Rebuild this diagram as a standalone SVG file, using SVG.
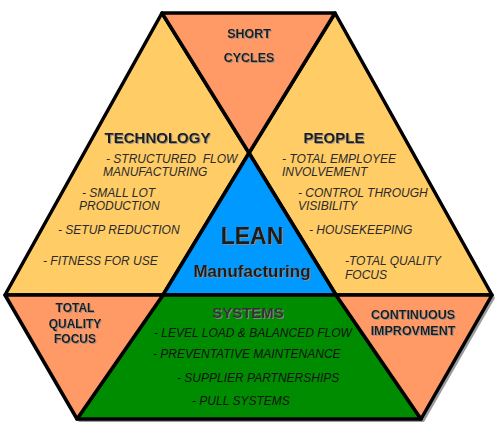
<svg xmlns="http://www.w3.org/2000/svg" width="500" height="434" viewBox="0 0 500 434">
<defs>
<filter id="ts" x="-10%" y="-30%" width="130%" height="170%">
<feDropShadow dx="1" dy="1" stdDeviation="0.4" flood-color="#8a8a8a" flood-opacity="0.9"/>
</filter>
<style>
.reg{stroke:#000;stroke-width:3.5;stroke-linejoin:round}
.yel{fill:#FFCC66}
.sal{fill:#FF9966}
.blu{fill:#0099FF}
.grn{fill:#008C00}
.h{font-family:"Liberation Sans",Arial,sans-serif;font-weight:bold;fill:#1a1a1a;filter:url(#ts)}
.it{font-family:"Liberation Sans",Arial,sans-serif;font-style:italic;font-size:12px;fill:#2a2a2a}
.c{text-anchor:middle}
</style>
</defs>
<rect width="500" height="434" fill="#fff"/>
<polygon id="shadow" points="164,16 338,16 495,298 424,422 79,422 7,298" fill="#9a9a9a"/>
<g id="technology">
<polygon class="reg yel" points="162,13 249,153 163,295 5,295"/>
<text class="h c" x="157.5" y="143" font-size="15">TECHNOLOGY</text>
<text class="it" x="106" y="163" xml:space="preserve">- STRUCTURED  FLOW</text>
<text class="it" x="103" y="176">MANUFACTURING</text>
<text class="it" x="82" y="197">- SMALL LOT</text>
<text class="it" x="79" y="210">PRODUCTION</text>
<text class="it" x="58" y="234">- SETUP REDUCTION</text>
<text class="it" x="43" y="265">- FITNESS FOR USE</text>
</g>
<g id="people">
<polygon class="reg yel" points="335,13 492,295 336,295 249,153"/>
<text class="h c" x="334" y="143" font-size="15">PEOPLE</text>
<text class="it" x="282" y="163">- TOTAL EMPLOYEE</text>
<text class="it" x="282" y="176">INVOLVEMENT</text>
<text class="it" x="298" y="197">- CONTROL THROUGH</text>
<text class="it" x="298" y="210">VISIBILITY</text>
<text class="it" x="309" y="234">- HOUSEKEEPING</text>
<text class="it" x="345" y="265">-TOTAL QUALITY</text>
<text class="it" x="345" y="279">FOCUS</text>
</g>
<g id="short-cycles">
<polygon class="reg sal" points="162,13 335,13 249,153"/>
<text class="h c" x="249" y="38" font-size="12.5">SHORT</text>
<text class="h c" x="249" y="62" font-size="12.5">CYCLES</text>
</g>
<g id="lean">
<polygon class="reg blu" points="249,153 336,295 163,295"/>
<text class="h c" x="252" y="244" font-size="23">LEAN</text>
<text class="h c" x="252" y="277" font-size="17">Manufacturing</text>
</g>
<g id="systems">
<polygon class="reg grn" points="163,295 336,295 421,419 77,419"/>
<text class="h c" x="248" y="318" font-size="15" style="fill:#333">SYSTEMS</text>
<text class="it" x="154" y="337" style="fill:#111">- LEVEL LOAD &amp; BALANCED FLOW</text>
<text class="it" x="153" y="358" style="fill:#111">- PREVENTATIVE MAINTENANCE</text>
<text class="it" x="177" y="382" style="fill:#111">- SUPPLIER PARTNERSHIPS</text>
<text class="it" x="192" y="405" style="fill:#111">- PULL SYSTEMS</text>
</g>
<g id="total-quality-focus">
<polygon class="reg sal" points="5,295 163,295 77,419"/>
<text class="h c" x="75" y="312" font-size="12">TOTAL</text>
<text class="h c" x="75" y="328" font-size="12">QUALITY</text>
<text class="h c" x="75" y="343" font-size="12">FOCUS</text>
</g>
<g id="continuous-improvement">
<polygon class="reg sal" points="336,295 492,295 421,419"/>
<text class="h c" x="413" y="319" font-size="12.5">CONTINUOUS</text>
<text class="h c" x="413" y="335" font-size="12.5">IMPROVMENT</text>
</g>
</svg>
